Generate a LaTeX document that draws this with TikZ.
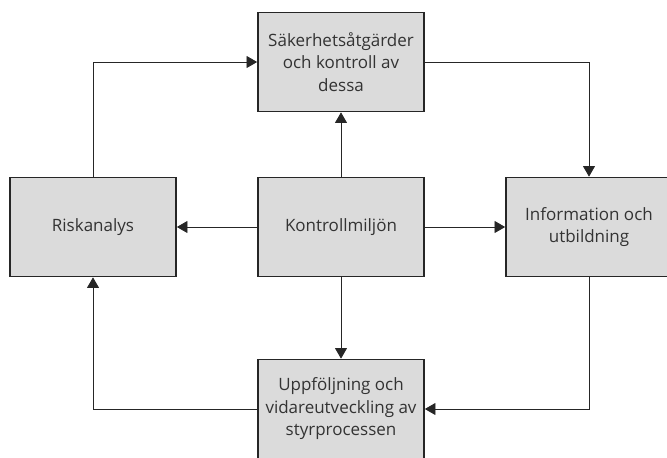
\documentclass[tikz,border=0pt]{standalone}
\usepackage{fontspec}
\setmainfont{Open Sans}
\usetikzlibrary{arrows.meta}

\begin{document}
\begin{tikzpicture}[
    box/.style = {draw = black!85, line width = 1.4pt, fill = black!14,
        minimum width = 4.98cm, minimum height = 2.97cm, inner sep = 0pt,
        align = center, font = \fontsize{14.5}{19.2}\selectfont, text = black!80},
    arr/.style = {draw = black!85, line width = 0.8pt,
        -{Triangle[length = 3.2mm, width = 3.6mm]}}
]
\useasboundingbox (0, 0) rectangle (20.01, -13.71);
% Boxes
\node[box] (sak) at (10.23, -1.86) {Säkerhetsåtgärder\\och kontroll av\\dessa};
\node[box] (risk) at (2.79, -6.81) {Riskanalys};
\node[box] (miljo) at (10.23, -6.81) {Kontrollmiljön};
\node[box] (info) at (17.67, -6.81) {Information och\\utbildning};
\node[box] (uppf) at (10.23, -12.27) {Uppföljning och\\vidareutveckling av\\styrprocessen};
% From the centre
\draw[arr] (miljo.north) -- (sak.south);
\draw[arr] (miljo.west) -- (risk.east);
\draw[arr] (miljo.east) -- (info.west);
\draw[arr] (miljo.south) -- (uppf.north);
% Round the loop
\draw[arr] (risk.north) |- (sak.west);
\draw[arr] (sak.east) -| (info.north);
\draw[arr] (info.south) |- (uppf.east);
\draw[arr] (uppf.west) -| (risk.south);
\end{tikzpicture}
\end{document}
